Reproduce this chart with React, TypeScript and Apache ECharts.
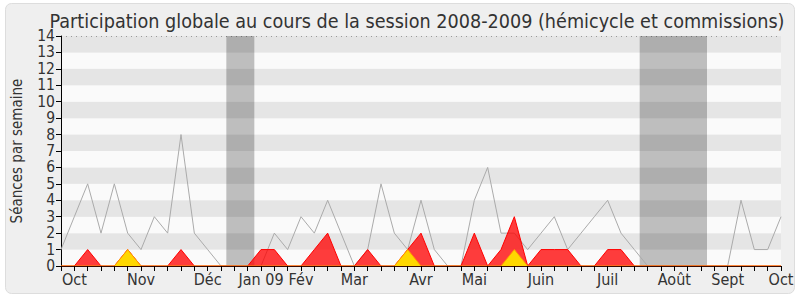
import React, { useEffect, useRef } from "react";
import * as echarts from "echarts";

const weeks: number[] = Array.from({ length: 55 }, (_, i) => i);
const totalSeances = [1,3,5,2,5,2,1,3,2,8,2,1,0,0,0,0,2,1,3,2,4,2,0,1,5,2,1,4,1,0,0,4,6,2,2,1,2,3,1,2,3,4,2,1,0,0,0,0,0,0,0,4,1,1,3];
const presenceRouge = [0,0,1,0,0,1,0,0,0,1,0,0,0,0,0,1,1,0,0,1,2,0,0,1,0,0,1,2,0,0,0,2,0,1,3,0,1,1,1,0,0,1,1,0,0,0,0,0,0,0,0,0,0,0,0];
const presenceJaune = [0,0,0,0,0,1,0,0,0,0,0,0,0,0,0,0,0,0,0,0,0,0,0,0,0,0,1,0,0,0,0,0,0,0,1,0,0,0,0,0,0,0,0,0,0,0,0,0,0,0,0,0,0,0,0];
const monthLabelWeeks = [1, 6, 11, 15, 18, 22, 27, 31, 36, 41, 46, 50, 54];
const monthLabels = ["Oct", "Nov", "Déc", "Jan 09", "Fév", "Mar", "Avr", "Mai", "Juin", "Juil", "Août", "Sept", "Oct"];
const vacances = [[12.4, 14.5], [43.4, 48.45]];
const yTicks = [0,1,2,3,4,5,6,7,8,9,10,11,12,13,14];

const FONT = "'DejaVu Sans Condensed', 'DejaVu Sans', sans-serif";

export default function App() {
  const ref = useRef<HTMLDivElement>(null);
  useEffect(() => {
    if (!ref.current) return;
    const chart = echarts.init(ref.current, null, { renderer: "svg" });
    const labelMap: Record<number, string> = {};
    monthLabelWeeks.forEach((w, k) => (labelMap[w] = monthLabels[k]));
    const toPairs = (arr: number[]) => weeks.map((w) => [w, arr[w]]);
    const splitColors = yTicks.map((t) => (t === 14 ? "#999" : "rgba(0,0,0,0)"));
    chart.setOption({
      animation: false,
      backgroundColor: "transparent",
      textStyle: { fontFamily: FONT },
      graphic: [
        {
          type: "rect",
          z: -10,
          shape: { x: 5.5, y: 3.5, width: 789, height: 290, r: 6 },
          style: { fill: "#efefef", stroke: "#dddddd", lineWidth: 1 },
        },
      ],
      title: {
        text: "Participation globale au cours de la session 2008-2009 (hémicycle et commissions)",
        left: 412,
        textAlign: "center",
        top: 5,
        textStyle: { fontFamily: FONT, fontSize: 19.6, lineHeight: 22, fontWeight: "normal", color: "#333" },
      },
      grid: { left: 61, right: 19, top: 36, bottom: 34, containLabel: false, outerBoundsMode: "none" },
      xAxis: {
        type: "value",
        min: 0,
        max: 54,
        interval: 1,
        z: 10,
        axisLine: { show: true, lineStyle: { color: "#3a0a00", width: 1 } },
        axisTick: { show: true, length: 5, lineStyle: { color: "#000" } },
        axisLabel: {
          formatter: (v: number) => labelMap[v] ?? "",
          fontFamily: FONT,
          fontSize: 16,
          color: "#333",
          margin: 5,
          showMinLabel: true,
          showMaxLabel: true,
        },
        splitLine: { show: false },
      },
      yAxis: {
        type: "value",
        min: 0,
        max: 14,
        interval: 1,
        name: "Séances par semaine",
        nameLocation: "middle",
        nameGap: 37,
        nameTextStyle: { fontFamily: FONT, fontSize: 15, color: "#333" },
        axisLine: { show: true, lineStyle: { color: "#000" } },
        axisTick: { show: true, length: 5, lineStyle: { color: "#000" } },
        axisLabel: { fontFamily: FONT, fontSize: 15.5, lineHeight: 15, color: "#333", margin: 6 },
        splitArea: { show: true, areaStyle: { color: ["#fafafa", "#e5e5e5"] } },
        splitLine: { show: true, lineStyle: { color: splitColors, type: [1, 4], width: 1 } },
      },
      series: [
        {
          type: "line",
          data: toPairs(totalSeances),
          symbol: "none",
          z: 2,
          lineStyle: { color: "#aaaaaa", width: 1 },
          markArea: {
            silent: true,
            itemStyle: { color: "rgba(0,0,0,0.24)" },
            data: vacances.map(([a, b]) => [{ xAxis: a }, { xAxis: b }]),
          },
        },
        {
          type: "line",
          data: toPairs(presenceRouge),
          symbol: "none",
          z: 3,
          lineStyle: { color: "#ff0000", width: 1 },
          areaStyle: { color: "rgba(255,0,0,0.76)", opacity: 1 },
        },
        {
          type: "line",
          data: toPairs(presenceJaune),
          symbol: "none",
          z: 4,
          lineStyle: { color: "#ff9900", width: 1 },
          areaStyle: { color: "#ffd700", opacity: 1 },
        },
      ],
    });
    return () => chart.dispose();
  }, []);
  return (
    <div
      ref={ref}
      style={{ position: "fixed", left: 0, top: 0, width: 800, height: 300, background: "#ffffff" }}
    />
  );
}
